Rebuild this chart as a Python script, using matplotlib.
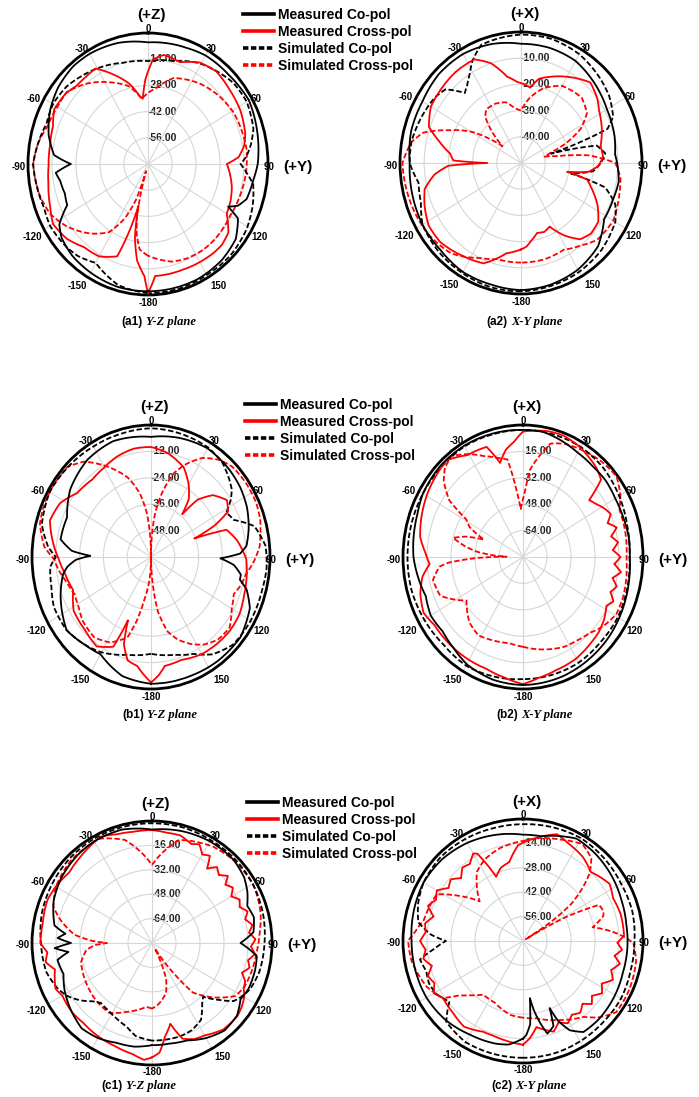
import numpy as np
import matplotlib.pyplot as plt
from matplotlib.lines import Line2D

plt.rcParams['font.family'] = ['Liberation Sans', 'DejaVu Sans']

# ---- radiation patterns: (angle in deg, gain in dB) ----
# (a1) Y-Z plane
A1_CO_MEAS = [(-180, -2), (-165, -2), (-150, -3), (-138, -4), (-128, -6), (-122, -9), (-115, -18),
              (-108, -19), (-100, -18), (-95, -16), (-90, -25), (-85, -15), (-75, -10), (-63, -6),
              (-52, -3.5), (-40, -2), (-30, -2), (-15, -3), (0, -5), (10, -4.5), (20, -4), (30, -3),
              (45, -3), (60, -2), (75, -4), (90, -6), (98, -8), (108, -9.5), (113, -13), (116, -18),
              (119, -10), (128, -5), (140, -3), (155, -2), (170, -2), (180, -2)]
A1_CX_MEAS = [(-180, -1), (-178, -10), (-173, -18), (-169, -30), (-166, -47), (-163, -32), (-160, -17.5),
              (-150, -13), (-140, -12), (-130, -8), (-120, -6), (-112, -8.5), (-100, -11), (-91, -12),
              (-80, -12), (-70, -11), (-62, -8), (-52, -9), (-45, -11), (-38, -11), (-31, -10.5),
              (-23, -18), (-14, -26), (-8, -33), (-5, -35), (-2, -25), (3, -14), (9, -11), (19, -12.5),
              (29, -8), (39, -6.5), (50, -8), (62, -9), (74, -11), (80, -13), (86, -17), (90, -24),
              (96, -22), (104, -19.6), (112, -18), (120, -17), (128, -10.5), (135, -9), (141, -9),
              (150, -9.5), (160, -10), (170, -10), (176, -10), (180, -1)]
A1_CO_SIM = [(-180, -1), (-165, -3), (-150, -9), (-140, -6), (-133, -5), (-120, -4), (-111, -5),
             (-100, -4), (-90, -3), (-80, -5), (-70, -7), (-60, -6), (-49, -7), (-40, -9), (-30, -11),
             (-15, -14), (0, -15), (15, -13), (29, -8.4), (40, -6), (49, -4), (60, -3.5), (73, -5.7),
             (80, -9), (86, -12.5), (90, -16), (95, -12), (100, -7.7), (110, -5), (121, -2.8),
             (135, -1.5), (150, -1.5), (165, -1), (180, -1)]
A1_CX_SIM = [(-180, -21), (-174, -24), (-170, -32), (-167, -42), (-163, -66), (-160, -50), (-155, -38),
             (-148, -27), (-138, -20), (-125, -12), (-115, -7), (-105, -4.7), (-90, -3), (-80, -5),
             (-71, -8), (-60, -9), (-51, -9), (-40, -14), (-27, -21), (-15, -27), (-6, -35), (0, -32),
             (7, -29), (18, -21.7), (35, -17.5), (48, -15), (61, -13), (72, -12.5), (82, -12),
             (94, -12.6), (105, -13.5), (120, -14.7), (135, -14), (145, -14), (156, -14.7), (165, -16),
             (174, -19), (180, -21)]

# (a2) X-Y plane
A2_CO_MEAS = [(-180, -1.5), (-165, -2), (-150, -2), (-135, -3), (-120, -3), (-105, -3.5), (-90, -4),
              (-75, -3), (-60, -3), (-45, -2), (-30, -2), (-15, -3), (0, -4.5), (15, -4.5), (30, -5),
              (45, -7), (60, -9), (75, -10), (85, -11), (92, -10), (100, -9), (110, -9.5), (122, -9.5),
              (135, -5), (150, -3), (165, -2), (180, -1.5)]
A2_CX_MEAS = [(-180, -17), (-170, -15), (-158, -8.7), (-145, -7), (-132, -5), (-122, -5), (-112, -7),
              (-104, -9), (-97, -14), (-92, -20), (-90, -36), (-88, -22), (-83, -20.5), (-76, -15),
              (-70, -9.5), (-60, -7), (-48, -6.5), (-38, -6), (-26, -6), (-18, -10), (-10, -16.5),
              (-3, -19), (3, -20), (7.5, -21), (13, -17), (20, -15), (30, -12), (43, -8), (52, -10),
              (58, -12), (68, -14), (79, -16.5), (86, -16), (92, -18), (97, -22), (100, -30.7),
              (103, -22), (107, -20), (117, -14.5), (125, -11), (133, -10.5), (140, -12), (147, -17),
              (154, -23), (160, -22), (166, -22.5), (172, -20), (176, -18), (180, -17)]
A2_CO_SIM = [(-180, -1), (-165, -1), (-150, -1.5), (-135, -2), (-120, -3), (-110, -6), (-100, -7),
             (-90, -4), (-80, -4), (-70, -5), (-63, -5.7), (-55, -6.5), (-48, -8), (-41, -14.6),
             (-37, -13), (-32, -10), (-27, -6), (-20, -2), (-10, -1.5), (0, -1), (15, -1), (30, -2),
             (45, -4), (55, -5.5), (65, -8), (70, -12), (74, -37), (78, -18), (84, -15), (90, -17),
             (96, -20), (101, -29), (105, -14), (112, -8), (120, -5), (135, -3), (150, -2),
             (165, -1.5), (180, -1)]
A2_CX_SIM = [(-180, -12), (-165, -12), (-155, -10), (-140, -5), (-125, -3), (-110, -2), (-90, -1),
             (-80, -4), (-74, -8), (-67, -18), (-60, -26), (-54, -35), (-50, -40), (-45, -33),
             (-40, -27), (-35, -25), (-25, -25), (-15, -26), (-7, -29), (0, -30), (8, -25), (18, -20),
             (30, -16), (45, -14.6), (55, -16.7), (62, -22), (68, -30), (72, -37), (76, -40), (80, -35),
             (84, -22), (90, -11), (98, -8.5), (105, -7.8), (120, -6), (133, -7), (142, -10),
             (152, -12.5), (165, -12), (180, -12)]

# (b1) Y-Z plane
B1_CO_MEAS = [(-180, -2.4), (-165, -4), (-150, -9), (-140, -8), (-128, -6), (-118, -9), (-110, -11.5),
              (-100, -15), (-96, -17.6), (-92, -22), (-89, -29.4), (-86, -20), (-80, -13.7), (-67, -14),
              (-53, -9), (-36, -5.4), (-20, -4), (0, -5.4), (15, -4), (30, -3), (45, -4), (55, -5),
              (65, -6.6), (75, -9), (84, -11.6), (88, -15), (91, -25), (95, -18), (100, -14),
              (103, -14), (107, -9.6), (115, -5), (129, -2), (145, -2), (160, -2.4), (180, -2.4)]
B1_CX_MEAS = [(-180, -3), (-172, -10), (-166, -11.5), (-161, -18), (-158, -29), (-155, -15),
              (-146, -11), (-135, -13), (-122, -14), (-111, -18), (-100, -16), (-91, -13.4), (-82, -10),
              (-72, -6.4), (-62, -8), (-52, -12.8), (-40, -14), (-30, -13), (-21, -11.3), (-10, -10),
              (0, -10), (10, -12), (16, -14), (22, -16), (30, -22), (36, -27.6), (39, -35), (42, -25),
              (48, -18), (56, -13.8), (62, -16), (66, -25), (69, -36.6), (72, -20), (80, -16),
              (91, -12), (100, -11), (110, -10), (120, -8.4), (130, -8), (140, -8.4), (150, -9),
              (162, -10.8), (172, -10), (176, -6), (180, -3)]
B1_CO_SIM = [(-180, -16), (-165, -14), (-150, -10), (-140, -8), (-128, -6), (-115, -6), (-105, -8),
             (-95, -9), (-90, -12), (-85, -8), (-75, -3), (-60, -1), (-45, -1.5), (-30, -2), (-15, -2),
             (0, -1.5), (15, -2), (30, -2.5), (40, -4), (48, -7), (53, -9), (57, -12), (62, -17),
             (68, -15), (75, -6), (85, -2), (95, -1.5), (105, -2), (120, -2), (134, -2.6), (145, -6),
             (154, -11), (165, -14), (180, -16)]
B1_CX_SIM = [(-180, -60), (-176, -50), (-170, -40), (-166, -30), (-162, -21.6), (-152, -16),
             (-142, -13.6), (-130, -15), (-122, -17), (-114, -18), (-105, -16), (-97, -13), (-91, -11),
             (-85, -6), (-75, -2), (-65, -1), (-55, -1), (-46, -1.2), (-38, -5), (-27, -14.4),
             (-18, -22), (-11, -30.6), (-6, -40), (-2, -52), (0, -60), (2, -52), (6, -40), (11, -30),
             (17, -20), (23, -14), (30, -8), (38, -4), (45, -2), (55, -1.5), (65, -1.5), (73, -2.4),
             (80, -4), (85, -5), (92, -8), (99, -11.4), (106, -13), (112, -15), (120, -13), (129, -9),
             (138, -9.5), (146, -12), (153, -15.6), (160, -20), (166, -25), (172, -35), (176, -48),
             (180, -60)]

# (b2) X-Y plane
B2_CO_MEAS = [(-180, -2.4), (-165, -3), (-150, -5), (-140, -8), (-130, -10), (-120, -9), (-110, -11),
              (-100, -9), (-90, -7), (-80, -6), (-70, -5), (-60, -3), (-45, -2), (-30, -2), (-15, -2.5),
              (0, -3), (10, -3), (20, -5), (30, -7), (40, -8), (50, -8), (60, -9), (70, -9), (80, -8.5),
              (90, -8.8), (100, -8), (110, -7), (120, -6), (130, -5), (145, -4), (160, -3), (180, -2.4)]
B2_CX_MEAS = [(-180, -3), (-170, -6), (-160, -8), (-150, -8), (-144, -8), (-135, -8), (-125, -8),
              (-117, -5.6), (-108, -8), (-100, -12), (-94, -17.6), (-88, -15), (-80, -10.4), (-70, -8),
              (-59, -5.6), (-50, -4), (-41, -2.4), (-31, -8), (-20, -9), (-15, -21), (-10, -14),
              (-5, -10), (0, -4), (6, -3), (12, -2), (20, -1.6), (28, -3), (35, -5), (42, -7), (48, -10),
              (52, -24), (56, -22), (62, -18), (66, -16), (70, -20), (74, -15), (78, -20), (82, -16),
              (86, -20), (90, -15), (94, -19), (98, -14), (102, -19), (106, -15), (110, -18),
              (114, -14), (118, -17), (125, -14), (132, -12), (139, -11), (150, -9), (162, -8),
              (172, -6), (180, -3)]
B2_CO_SIM = [(-180, -6), (-165, -5), (-150, -4), (-135, -5), (-120, -4), (-105, -3), (-90, -3),
             (-75, -3), (-60, -3), (-45, -3), (-30, -2.5), (-15, -3), (0, -3), (15, -3), (30, -3),
             (45, -4), (60, -6), (75, -8), (90, -9), (105, -8), (120, -7), (135, -7), (150, -6),
             (165, -6), (180, -6)]
B2_CX_SIM = [(-180, -25.6), (-170, -27), (-158, -25.6), (-148, -24), (-138, -26.6), (-125, -34),
             (-113, -20), (-103, -18.4), (-96, -24), (-94, -30), (-91, -50), (-89, -69), (-87, -60),
             (-84, -49), (-80, -40), (-76, -32), (-72, -40), (-68, -52), (-63, -40), (-59, -36),
             (-55, -20), (-49, -10), (-44, -5), (-38, -2.4), (-30, -8), (-23, -13.6), (-15, -18),
             (-10, -20), (-6, -40), (-3, -51), (0, -45), (2, -40), (5, -27), (10, -18), (15, -8.8),
             (22, -6), (32, -4), (42, -2), (52, -0.8), (60, -5), (66, -9.6), (75, -10), (83, -10.5),
             (91, -11), (100, -10), (110, -9), (119, -8.8), (128, -12), (136, -16), (145, -18),
             (153, -19), (165, -22), (180, -25.6)]

# (c1) Y-Z plane
C1_CO_MEAS = [(-180, -13), (-170, -11), (-160, -10.4), (-150, -8), (-140, -7), (-127, -11), (-118, -14),
              (-109, -17.6), (-100, -16), (-96, -24), (-93, -15), (-90, -26), (-87, -17), (-84, -22),
              (-80, -14), (-67, -8.8), (-55, -6), (-41, -4), (-30, -3), (-15, -3), (0, -5.6), (15, -4),
              (30, -3), (45, -3), (55, -5), (62, -8), (69, -12), (76, -10), (84, -12), (88, -18),
              (90, -21), (93, -16), (97, -9.6), (105, -9), (115, -9), (122, -10.4), (130, -6),
              (140, -5), (150, -8), (160, -12), (170, -13), (180, -13)]
C1_CX_MEAS = [(-180, -5), (-176, -3.2), (-170, -6), (-160, -8), (-150, -9), (-139, -10.4), (-130, -10),
              (-120, -11), (-115, -9), (-110, -11), (-105, -13), (-100, -8), (-95, -10), (-90, -5.6),
              (-80, -6), (-68, -4.8), (-60, -6), (-50, -8), (-40, -6), (-32, -4), (-26, -2.4),
              (-18, -5), (-10, -6), (0, -6), (8, -7), (15, -7), (22, -10), (26, -8), (30, -13),
              (34, -11), (37, -19), (41, -14), (45, -17), (49, -13), (52, -18), (56, -15), (60, -19),
              (64, -15), (68, -17), (72, -13), (76, -16), (80, -12), (84, -15), (88, -11), (92, -14),
              (96, -11), (100, -15), (104, -13), (108, -17), (112, -13), (116, -12), (120, -9),
              (125, -7), (130, -5.6), (140, -6), (150, -10), (156, -11), (162, -14), (167, -25.6),
              (172, -18), (176, -8), (180, -5)]
C1_CO_SIM = [(-180, -16), (-170, -18), (-163, -22.6), (-155, -25), (-147, -27), (-139, -28),
             (-134, -25), (-128, -19), (-122, -14), (-116, -10.6), (-105, -7), (-90, -6), (-75, -4),
             (-60, -3), (-45, -2), (-30, -1.5), (-15, -1.5), (0, -1.5), (15, -1.5), (30, -2), (45, -2),
             (60, -2.5), (75, -3.5), (90, -5), (105, -6), (115, -8), (121, -11), (125, -13.6),
             (130, -22), (136, -31), (140, -28), (147, -20), (155, -17), (163, -16), (172, -16),
             (180, -16)]
C1_CX_SIM = [(-180, -37), (-175, -38), (-160, -32), (-148, -26), (-135, -27), (-120, -29), (-105, -31),
             (-96, -36), (-92, -42), (-90, -50), (-88, -40), (-84, -28), (-76, -17), (-70, -10),
             (-60, -6), (-45, -3.5), (-27, -3.2), (-15, -10), (-7, -20), (0, -28.8), (7, -20),
             (15, -10), (33, -4.8), (45, -3.2), (61, -2.4), (75, -5), (85, -8), (95, -10), (105, -11),
             (115, -12), (122, -14.4), (131, -25.6), (140, -37.6), (144, -56), (148, -70), (152, -76),
             (158, -55), (164, -46), (170, -42), (175, -39), (180, -37)]

# (c2) X-Y plane
C2_CO_MEAS = [(-180, -14), (-172, -10), (-165, -9), (-150, -8), (-135, -6), (-120, -5), (-105, -5),
              (-90, -5), (-75, -4), (-60, -3), (-45, -3.5), (-30, -5), (-15, -7), (0, -9), (10, -9),
              (20, -6), (28, -3.5), (40, -4.5), (55, -6.3), (68, -8), (81, -9), (95, -9), (107, -9),
              (120, -8), (135, -7), (146, -7), (152, -12), (156, -20), (158, -28.5), (160, -18),
              (165, -15), (168, -22), (171, -30), (173, -37), (175, -22), (178, -16), (180, -14)]
C2_CX_MEAS = [(-180, -10.5), (-170, -12), (-162, -13), (-156, -13), (-145, -10), (-135, -12),
              (-125, -13), (-120, -10), (-115, -13), (-110, -11), (-105, -15), (-100, -11), (-95, -13),
              (-90, -10), (-85, -13), (-80, -12), (-75, -16), (-70, -11), (-65, -14), (-60, -12),
              (-55, -17), (-50, -15), (-45, -19), (-40, -15), (-35, -16), (-30, -12), (-28, -13.3),
              (-23, -30), (-17, -26), (-10, -24), (-3, -15), (7, -10.5), (18, -5.6), (25, -8),
              (36, -10.5), (45, -14), (57, -9.8), (65, -12), (75, -11), (87, -11), (91, -15), (95, -12),
              (99, -16), (103, -12), (108, -16), (113, -13), (118, -18), (123, -15), (128, -19),
              (132, -16), (136, -20), (141, -17), (146, -19), (151, -16), (156, -19), (161, -15),
              (165, -17), (171, -20), (176, -14), (180, -10.5)]
C2_CO_SIM = [(-180, -3), (-165, -3), (-150, -3), (-136, -5.6), (-129, -14.7), (-121, -11), (-114, -10),
             (-107, -11), (-100, -9), (-95, -18), (-90, -25), (-86, -16), (-80, -8), (-70, -5),
             (-60, -3), (-45, -2), (-30, -2.5), (-15, -3), (0, -3), (15, -2.5), (30, -2), (45, -3),
             (60, -4), (75, -4), (90, -5), (105, -5), (120, -4), (135, -4), (150, -3.5), (165, -3),
             (180, -3)]
C2_CX_SIM = [(-180, -26), (-170, -27), (-155, -31), (-143, -31.5), (-135, -26), (-130, -21.5),
             (-125, -13), (-115, -8), (-100, -4), (-90, -3), (-85, -7), (-78, -11), (-70, -12),
             (-62, -13), (-55, -25), (-48, -36), (-42, -30), (-34, -22), (-25, -18), (-14, -15),
             (0, -12.6), (10, -10), (20, -8), (32, -4.5), (40, -8), (45, -15), (48, -22), (50, -27),
             (53, -35), (56, -50), (58, -68), (61, -43), (65, -21), (70, -20), (73, -21), (79, -28.6),
             (83, -20), (86, -14), (91, -5.6), (100, -3), (115, -2), (127, -2), (135, -8), (141, -14),
             (155, -20), (170, -25), (180, -26)]

ANGLE_LABELS = ['0', '30', '60', '90', '120', '150', '-180', '-150', '-120', '-90', '-60', '-30']
# label centres in units of the x / y radius (y downwards)
ANGLE_LABEL_POS = [(0, -1.03), (0.53, -0.88), (0.9, -0.5), (1.01, 0.02), (0.93, 0.56), (0.59, 0.935),
                   (0, 1.06), (-0.59, 0.935), (-0.965, 0.56), (-1.08, 0.02), (-0.95, -0.5),
                   (-0.55, -0.88)]

LEGEND_LABELS = ['Measured Co-pol', 'Measured Cross-pol', 'Simulated Co-pol', 'Simulated Cross-pol']

W, H = 699, 1097
fig = plt.figure(figsize=(W / 100, H / 100), dpi=100)
fig.patch.set_facecolor('white')

DASH = (0, (3, 1.4))


def panel(cx, cy, rx, ry, rmin, step, top_label, series, caption_tag, caption_plane, cap_x, cap_y):
    ax = fig.add_axes([(cx - rx) / W, 1 - (cy + ry) / H, 2 * rx / W, 2 * ry / H], projection='polar')
    ax.set_aspect('auto')
    ax.set_theta_zero_location('N')
    ax.set_theta_direction(-1)
    ax.set_ylim(rmin, 0)

    ax.set_xticks(np.deg2rad(np.arange(0, 360, 30)))
    ax.set_xticks(np.deg2rad(np.arange(0, 360, 5)), minor=True)
    ax.set_xticklabels([])
    ax.tick_params(axis='x', which='major', direction='in', length=6, width=1.1, color='black')
    ax.tick_params(axis='x', which='minor', direction='in', length=3.5, width=0.9, color='black')
    rings = np.arange(rmin + step, 0, step)
    ax.set_yticks(rings)
    ax.set_yticklabels([])
    ax.tick_params(axis='y', length=0)
    ax.grid(True, which='major', color='#d6d6d6', lw=0.8)
    ax.spines['polar'].set_linewidth(2.0)

    for v in rings:
        ax.text(0, v, f'{v:.2f}', fontsize=7.5, fontweight='bold', color='#222222',
                ha='left', va='center', zorder=1)

    co_m, cx_m, co_s, cx_s = series
    for data, color, ls in [(cx_s, 'red', DASH), (co_s, 'black', DASH),
                            (cx_m, 'red', '-'), (co_m, 'black', '-')]:
        arr = np.array(data, dtype=float)
        ln, = ax.plot(np.deg2rad(arr[:, 0]), arr[:, 1], color=color, ls=ls, lw=1.3, zorder=3)
        # follow the polar grid between samples instead of drawing chords
        ln.get_path()._interpolation_steps = 12

    for lab, (dx, dy) in zip(ANGLE_LABELS, ANGLE_LABEL_POS):
        ax.text(0.5 + dx / 2, 0.5 - dy / 2, lab, transform=ax.transAxes, fontsize=7,
                fontweight='bold', ha='center', va='center')
    ax.text(0.5 + 0.03 / 2, 0.5 + 1.14 / 2, top_label, transform=ax.transAxes, fontsize=11,
            fontweight='bold', ha='center', va='center')
    ax.text(0.5 + 1.25 / 2, 0.5 - 0.02 / 2, '(+Y)', transform=ax.transAxes, fontsize=11,
            fontweight='bold', ha='center', va='center')

    fig.text(cap_x / W, 1 - cap_y / H, caption_tag, fontsize=8.5, fontweight='bold',
             ha='right', va='center')
    fig.text((cap_x + 3) / W, 1 - cap_y / H, caption_plane, fontsize=9, fontweight='bold',
             fontstyle='italic', family='Liberation Serif', ha='left', va='center')
    return ax


panel(148, 164, 120, 131, -70, 14, '(+Z)', (A1_CO_MEAS, A1_CX_MEAS, A1_CO_SIM, A1_CX_SIM),
      '(a1)', 'Y-Z plane', 143, 322)
panel(521, 163, 121, 131, -50, 10, '(+X)', (A2_CO_MEAS, A2_CX_MEAS, A2_CO_SIM, A2_CX_SIM),
      '(a2)', 'X-Y plane', 508, 322)
panel(151, 557, 119, 132, -60, 12, '(+Z)', (B1_CO_MEAS, B1_CX_MEAS, B1_CO_SIM, B1_CX_SIM),
      '(b1)', 'Y-Z plane', 144, 715)
panel(523, 557, 120, 132, -80, 16, '(+X)', (B2_CO_MEAS, B2_CX_MEAS, B2_CO_SIM, B2_CX_SIM),
      '(b2)', 'X-Y plane', 518, 715)
panel(152, 943, 120, 122, -80, 16, '(+Z)', (C1_CO_MEAS, C1_CX_MEAS, C1_CO_SIM, C1_CX_SIM),
      '(c1)', 'Y-Z plane', 123, 1086)
panel(523, 941, 120, 122, -70, 14, '(+X)', (C2_CO_MEAS, C2_CX_MEAS, C2_CO_SIM, C2_CX_SIM),
      '(c2)', 'X-Y plane', 512, 1086)

handles = [Line2D([], [], color='black', lw=2.6),
           Line2D([], [], color='red', lw=2.6),
           Line2D([], [], color='black', lw=2.6, ls=(0, (1.5, 0.7))),
           Line2D([], [], color='red', lw=2.6, ls=(0, (1.5, 0.7)))]
for lx, ly in [(243, 8), (245, 398), (247, 796)]:
    fig.legend(handles, LEGEND_LABELS, loc='upper left', bbox_to_anchor=(lx / W, 1 - ly / H),
               frameon=False, prop={'size': 10, 'weight': 'bold'}, handlelength=2.2,
               handletextpad=0.35, labelspacing=0.22, borderpad=0, borderaxespad=0)

fig.savefig('out.png', dpi=100, facecolor='white')
